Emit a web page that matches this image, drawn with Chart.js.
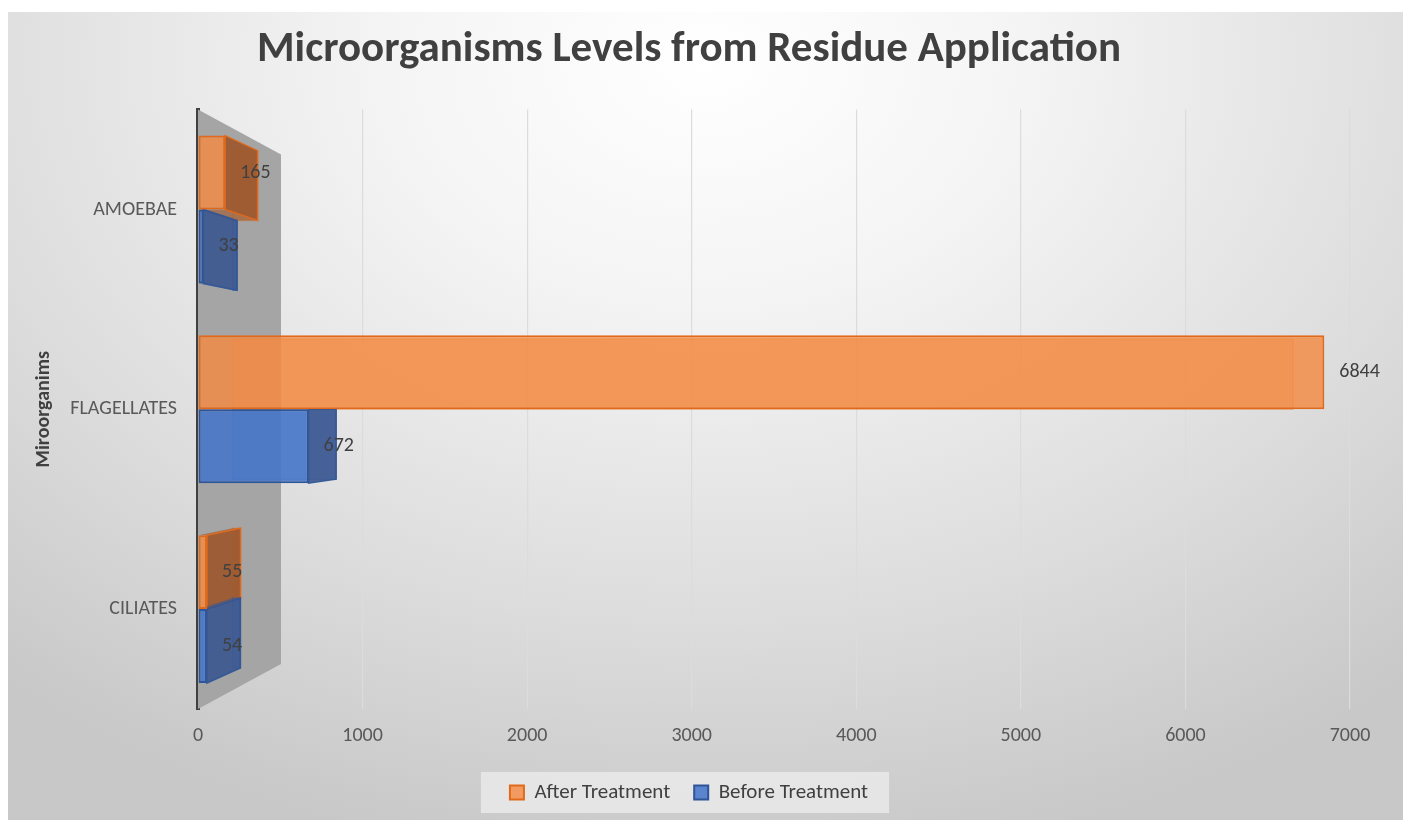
<!DOCTYPE html>
<html>
<head>
<meta charset="utf-8">
<script src="https://cdn.jsdelivr.net/npm/chart.js@4.4.0/dist/chart.umd.min.js"></script>
<style>
  html, body { margin: 0; padding: 0; background: #fff; width: 1403px; height: 820px; overflow: hidden; }
  #wrap {
    position: absolute; left: 8px; top: 12px; width: 1395px; height: 808px;
    background: radial-gradient(ellipse 78% 100% at 50% 6%, #ffffff 0%, #f4f4f4 30%, #dcdcdc 70%, #c8c8c8 100%);
  }
</style>
</head>
<body>
<div id="wrap"><canvas id="main-chart" width="1395" height="808"></canvas></div>
<script>
const categories = ['AMOEBAE', 'FLAGELLATES', 'CILIATES'];
const afterTreatment = [165, 6844, 55];
const beforeTreatment = [33, 672, 54];
const xMin = 0;
const xMax = 7000;
const xStep = 1000;

const FONT = 'Calibri, Carlito, Lato, sans-serif';
Chart.defaults.font.family = FONT;

// grey 3d side wall behind the bars
const sideWall = {
  id: 'sideWall',
  beforeDatasetsDraw(chart) {
    const { ctx, chartArea: a } = chart;
    const depth = 83, skew = 45;
    ctx.save();
    ctx.fillStyle = '#a5a5a5';
    ctx.beginPath();
    ctx.moveTo(a.left, a.top);
    ctx.lineTo(a.left + depth, a.top + skew);
    ctx.lineTo(a.left + depth, a.bottom - skew);
    ctx.lineTo(a.left, a.bottom);
    ctx.closePath();
    ctx.fill();
    ctx.restore();
  }
};

// fake depth: back face + end cap for every bar, taken from the bar elements
const depth3d = {
  id: 'depth3d',
  beforeDatasetsDraw(chart) {
    const { ctx, chartArea: a } = chart;
    const cy = (a.top + a.bottom) / 2;
    const shiftX = px => 34 - 0.058 * (px - a.left);
    const shiftY = py => cy + (py - cy) * 0.945;
    const poly = pts => {
      ctx.beginPath();
      ctx.moveTo(pts[0][0], pts[0][1]);
      pts.slice(1).forEach(p => ctx.lineTo(p[0], p[1]));
      ctx.closePath();
    };
    chart.data.datasets.forEach((ds, i) => {
      chart.getDatasetMeta(i).data.forEach(bar => {
        const x0 = bar.base, x1 = bar.x;
        const y0 = bar.y - bar.height / 2, y1 = bar.y + bar.height / 2;
        const bx0 = x0 + shiftX(x0), bx1 = x1 + shiftX(x1);
        const by0 = shiftY(y0), by1 = shiftY(y1);
        ctx.save();
        ctx.strokeStyle = ds.borderColor;
        ctx.lineWidth = 1.5;
        // back face
        ctx.globalAlpha = 0.35;
        ctx.fillStyle = ds.backgroundColor;
        poly([[bx0, by0], [bx1, by0], [bx1, by1], [bx0, by1]]);
        ctx.fill();
        ctx.stroke();
        // top / bottom face
        ctx.globalAlpha = 0.6;
        ctx.fillStyle = ds.sideColor;
        if (by0 > y0) { poly([[x0, y1], [x1, y1], [bx1, by1], [bx0, by1]]); }
        else { poly([[x0, y0], [x1, y0], [bx1, by0], [bx0, by0]]); }
        ctx.fill();
        // right end cap when it faces the viewer
        if (bx1 > x1) {
          ctx.globalAlpha = 0.9;
          poly([[x1, y0], [bx1, by0], [bx1, by1], [x1, y1]]);
          ctx.fill();
          ctx.stroke();
        }
        ctx.restore();
      });
    });
  }
};

// light box behind the legend
const legendBox = {
  id: 'legendBox',
  beforeDraw(chart) {
    const boxes = chart.legend && chart.legend.legendHitBoxes;
    if (!boxes || !boxes.length) return;
    const left = Math.min(...boxes.map(b => b.left));
    const right = Math.max(...boxes.map(b => b.left + b.width));
    const top = Math.min(...boxes.map(b => b.top));
    const h = boxes[0].height;
    const ctx = chart.ctx;
    ctx.save();
    ctx.fillStyle = 'rgba(232,232,232,0.9)';
    ctx.fillRect(left - 29, top - 10, right - left + 50, h + 20);
    ctx.restore();
  }
};

const valueLabels = {
  id: 'valueLabels',
  afterDatasetsDraw(chart) {
    const ctx = chart.ctx;
    ctx.save();
    ctx.fillStyle = '#404040';
    ctx.font = '20px ' + FONT;
    ctx.textAlign = 'left';
    ctx.textBaseline = 'middle';
    chart.data.datasets.forEach((ds, i) => {
      chart.getDatasetMeta(i).data.forEach((bar, j) => {
        ctx.fillText(ds.data[j], bar.x + 15, bar.y);
      });
    });
    ctx.restore();
  }
};

const ctx = document.getElementById('main-chart').getContext('2d');
const chart = new Chart(ctx, {
  type: 'bar',
  data: {
    labels: categories,
    datasets: [
      {
        label: 'After Treatment',
        data: afterTreatment,
        backgroundColor: 'rgba(244,138,66,0.82)',
        borderColor: '#E2691A',
        sideColor: '#9C552A',
        borderWidth: 2,
        borderSkipped: false,
      },
      {
        label: 'Before Treatment',
        data: beforeTreatment,
        backgroundColor: 'rgba(70,117,200,0.88)',
        borderColor: '#2F5597',
        sideColor: '#3A5790',
        borderWidth: 2,
        borderSkipped: false,
      }
    ]
  },
  options: {
    indexAxis: 'y',
    responsive: false,
    animation: false,
    categoryPercentage: 0.74,
    barPercentage: 1.0,
    layout: { padding: { left: 20, right: 53, top: 0, bottom: 7 } },
    scales: {
      x: {
        min: xMin,
        max: xMax,
        ticks: { stepSize: xStep, color: '#595959', font: { size: 20 }, padding: 15, callback: v => String(v) },
        grid: { color: '#dcdcdc', lineWidth: 1.2, drawTicks: false },
        border: { display: false },
        afterFit(scale) { scale.height = 49; }
      },
      y: {
        ticks: { color: '#595959', font: { size: 20 }, padding: 21 },
        grid: { display: false, drawTicks: false },
        border: { color: '#404040', width: 4 },
        title: { display: true, text: 'Miroorganims', color: '#404040', font: { size: 20, weight: 'bold' } },
        afterFit(scale) { scale.width = 170; }
      }
    },
    plugins: {
      title: {
        display: true,
        text: 'Microorganisms Levels from Residue Application',
        color: '#404040',
        font: { size: 43, weight: 'bold' },
        padding: { top: 12, bottom: 34 }
      },
      legend: {
        position: 'bottom',
        labels: { color: '#404040', font: { size: 21 }, boxWidth: 14, boxHeight: 14, padding: 24 }
      },
      tooltip: { enabled: false }
    }
  },
  plugins: [sideWall, depth3d, legendBox, valueLabels]
});
</script>
</body>
</html>
